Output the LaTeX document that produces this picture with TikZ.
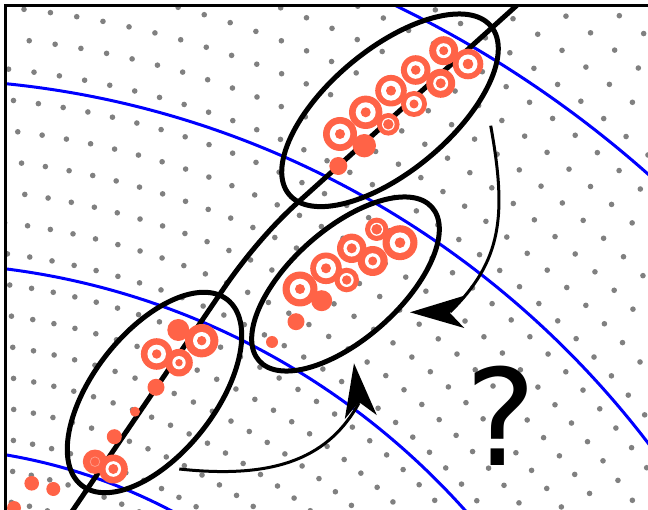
\documentclass[tikz,border=0pt]{standalone}
\usepackage{fontspec}
\newfontfamily\qfont{DejaVu Sans}
\usetikzlibrary{arrows.meta,shapes.geometric}
\definecolor{tomato}{RGB}{255,99,71}
\definecolor{dotgray}{RGB}{128,128,128}
\begin{document}
\begin{tikzpicture}[x=1pt,y=-1pt,
  ell/.style={draw=black,line width=5pt,ellipse,inner sep=0pt,outer sep=0pt},
  level/.style={draw=blue,line width=3pt},
  shaft/.style={line width=3pt},
  head/.style={line width=3pt,-{Stealth[length=54pt,width=32pt,inset=15pt]}},
  solid/.style={fill=tomato},
  pics/tgt/.style n args={3}{code={%
    \fill[tomato] (0,0) circle[radius=#1pt];
    \fill[white] (0,0) circle[radius=#2pt];
    \fill[tomato] (0,0) circle[radius=#3pt];}}
]
\useasboundingbox (0,0) rectangle (648,510);
\begin{scope}
\clip (5.3,5.3) rectangle (648,510);
% dot lattice
\foreach \m in {-17,...,10}{%
  \pgfmathsetmacro{\dotR}{1002+30.6*\m}%
  \pgfmathsetmacro{\dotD}{(10/\dotR+0.0166)*57.29578}%
  \pgfmathsetmacro{\dotP}{0.5*mod(abs(\m),2)}%
  \pgfmathtruncatemacro{\jlo}{-35/\dotD-1}%
  \pgfmathtruncatemacro{\jhi}{40/\dotD+1}%
  \foreach \j in {\jlo,...,\jhi}{%
    \pgfmathsetmacro{\dotT}{27.74+(\j+\dotP)*\dotD}%
    \fill[dotgray] ({-88+\dotR*sin(\dotT)},{1005-\dotR*cos(\dotT)}) circle[radius=2.8pt];
  }%
}
% level curves
\coordinate (c0) at (-88,1005);
\foreach \rad in {558,742,926,1110}{\draw[level] (c0) circle[radius=\rad pt];}
% curved black line
\draw[line width=5pt] (69.6,515) -- (222,291) .. controls (245,257) and (272,226) .. (295,205) -- (533.9,-10);
% ellipses
\node[ell,minimum width=262.8pt,minimum height=122.2pt,rotate=39.8] (E1) at (390,110.3) {};
\node[ell,minimum width=231.2pt,minimum height=109.8pt,rotate=41.6] (E2) at (345.5,284) {};
\node[ell,minimum width=236pt,minimum height=122pt,rotate=51.9] (E3) at (154.5,392.5) {};
% group 1
\fill[solid] (364.3,145.7) circle[radius=11.7pt];
\fill[solid] (338.3,166) circle[radius=9pt];
\pic at (340,134) {tgt={17}{10.3}{5}};
\pic at (365.7,112.3) {tgt={16.7}{10}{5}};
\pic at (391,90.7) {tgt={15.8}{10}{5}};
\pic at (415.7,70) {tgt={14.8}{8.8}{4.8}};
\pic at (443.7,50.7) {tgt={14.5}{7.5}{4.5}};
\pic at (468,64) {tgt={15.3}{9.5}{5.3}};
\pic at (440.7,83.3) {tgt={14.5}{7.5}{5}};
\pic at (414,104) {tgt={13}{8}{4.5}};
\pic at (388.3,124.3) {tgt={11.3}{6.3}{5.2}};
% group 2
\fill[solid] (321.7,300.7) circle[radius=10.5pt];
\fill[solid] (296,321.7) circle[radius=8.5pt];
\fill[solid] (272,342) circle[radius=6pt];
\pic at (300,289) {tgt={17.5}{10.3}{5}};
\pic at (326,268.3) {tgt={15.8}{10}{5}};
\pic at (351.7,248.3) {tgt={14.7}{8.3}{5}};
\pic at (376.7,229.3) {tgt={11.7}{6.5}{5.3}};
\pic at (400,242.7) {tgt={17.5}{10.3}{5.3}};
\pic at (372.7,261) {tgt={15}{7.8}{4.5}};
\pic at (346.7,280) {tgt={12.3}{7}{4.7}};
% group 3
\fill[solid] (178.3,330) circle[radius=11pt];
\pic at (201.7,340.7) {tgt={16.7}{8.7}{4.7}};
\pic at (156.7,354) {tgt={15.8}{9.3}{4.7}};
\pic at (179,362.7) {tgt={13.8}{6.7}{3.7}};
\fill[solid] (156,387.3) circle[radius=8.5pt];
\fill[solid] (135,411.7) circle[radius=5pt];
\fill[solid] (114.3,436.7) circle[radius=7.5pt];
\fill[solid] (95,461.7) circle[radius=12.2pt];
\draw[white,opacity=0.35,line width=0.8pt] (95,461.7) circle[radius=4.8pt];
\pic at (113.3,469) {tgt={14.5}{7.8}{5}};
\fill[solid] (31.7,483.3) circle[radius=7.3pt];
\fill[solid] (53.3,489) circle[radius=7pt];
\fill[solid] (14,508) circle[radius=7pt];
% arrows
\coordinate (a1) at (490.7,125.7);
\coordinate (n1) at (450,312);
\coordinate (t1) at (410,312.3);
\draw[shaft] (a1) .. controls (507,215.7) and (502,261) .. (n1);
\draw[head] (n1) -- (t1);
\coordinate (a3) at (179.3,469);
\coordinate (n2) at (359,403);
\coordinate (t2) at (354,363.3);
\draw[shaft] (a3) .. controls (280,480) and (330,455) .. (n2);
\draw[head] (n2) -- (t2);
% question mark
\node[inner sep=0pt,font={\qfont\fontsize{134}{134}\selectfont}] (q) at (501.5,416) {?};
\end{scope}
% frame
\draw[line width=2.7pt] (5.3,510) -- (5.3,5.3) -- (648,5.3);
\end{tikzpicture}
\end{document}
